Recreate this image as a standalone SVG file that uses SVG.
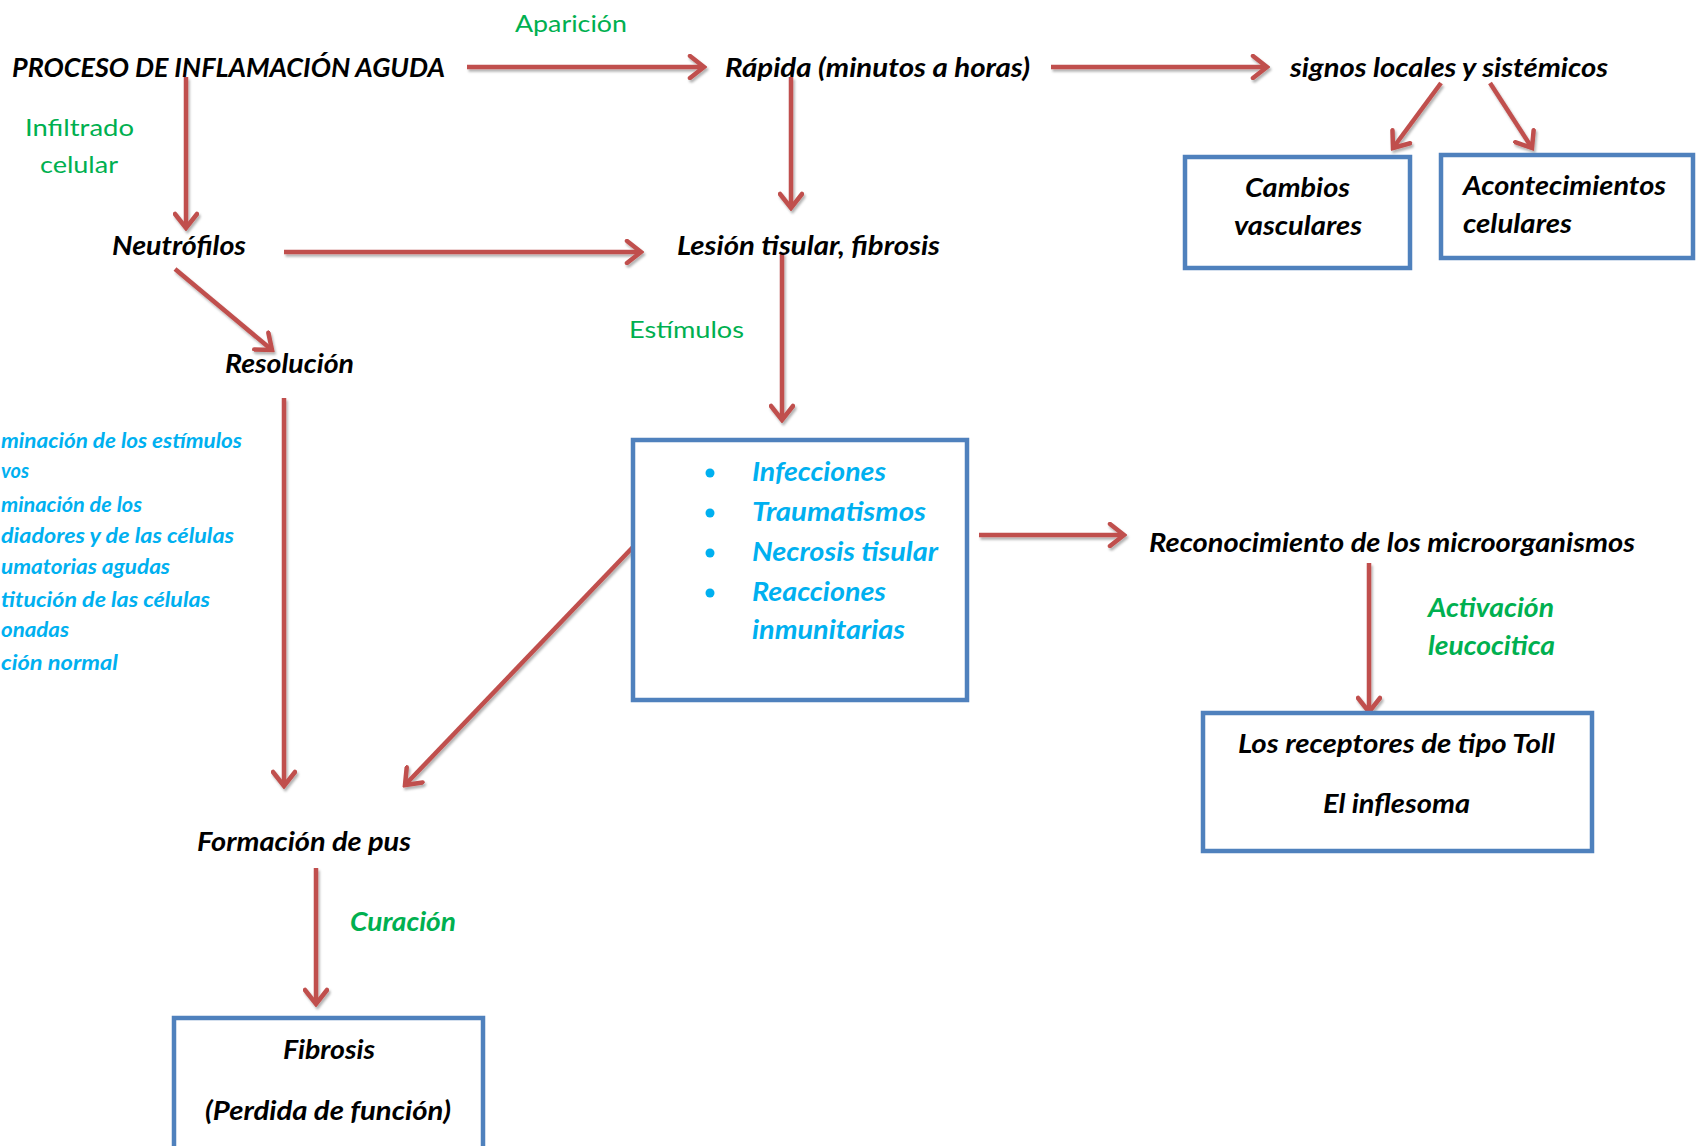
<svg xmlns="http://www.w3.org/2000/svg" width="1696" height="1146" viewBox="0 0 1696 1146">
<style>
.t{font-family:Lato,"Open Sans","Liberation Sans",sans-serif;font-weight:700;font-style:italic;font-size:26px;fill:#000}
.s{font-size:20px}
.b{fill:#00B0F0}
.g{fill:#00B050}
.gr{font-weight:400;font-style:normal;font-size:24px}
.box{fill:#fff;stroke:#4F81BD;stroke-width:4.5}
.c{stroke:#C0504D;stroke-width:4.5;fill:none;marker-end:url(#ah)}
</style>
<defs>
<marker id="ah" viewBox="0 0 20 26" refX="17" refY="13" markerWidth="20" markerHeight="26" markerUnits="userSpaceOnUse" orient="auto">
<path d="M3,2 L17,13 L3,24" fill="none" stroke="#C0504D" stroke-width="4.5" stroke-linecap="round" stroke-linejoin="miter"/>
</marker>
<filter id="sh" x="-10%" y="-10%" width="120%" height="120%">
<feDropShadow dx="1.5" dy="2.5" stdDeviation="1.2" flood-color="#000" flood-opacity="0.3"/>
</filter>
</defs>
<rect width="1696" height="1146" fill="#fff"/>

<g id="connectors" filter="url(#sh)">
<path class="c" d="M467,67 L704,67"/>
<path class="c" d="M1051,67 L1267,67"/>
<path class="c" d="M186,77 L186,228"/>
<path class="c" d="M791,77 L791,208"/>
<path class="c" d="M1441,83 L1393,148"/>
<path class="c" d="M1490,83 L1532,148"/>
<path class="c" d="M284,252 L641,252"/>
<path class="c" d="M175,269 L272,350"/>
<path class="c" d="M782,253 L782,420"/>
<path class="c" d="M284,398 L284,786"/>
<path class="c" d="M633,547 L405,785"/>
<path class="c" d="M979,535 L1124,535"/>
<path class="c" d="M1369,563 L1369,712"/>
<path class="c" d="M316,868 L316,1004"/>
</g>

<g id="label-aparicion"><text class="t g gr" x="515" y="32" textLength="112" lengthAdjust="spacingAndGlyphs">Aparición</text></g>
<g id="node-proceso"><text class="t" x="12" y="77" textLength="433" lengthAdjust="spacingAndGlyphs">PROCESO DE INFLAMACIÓN AGUDA</text></g>
<g id="node-rapida"><text class="t" x="725" y="77" textLength="305" lengthAdjust="spacingAndGlyphs">Rápida (minutos a horas)</text></g>
<g id="node-signos"><text class="t" x="1290" y="77" textLength="318" lengthAdjust="spacingAndGlyphs">signos locales y sistémicos</text></g>
<g id="label-infiltrado">
<text class="t g gr" x="25" y="136" textLength="109" lengthAdjust="spacingAndGlyphs">Infiltrado</text>
<text class="t g gr" x="40" y="173" textLength="78" lengthAdjust="spacingAndGlyphs">celular</text>
</g>
<g id="node-cambios">
<rect class="box" x="1185" y="157" width="225" height="111"/>
<text class="t" x="1245" y="197" textLength="105" lengthAdjust="spacingAndGlyphs">Cambios</text>
<text class="t" x="1234" y="235" textLength="128" lengthAdjust="spacingAndGlyphs">vasculares</text>
</g>
<g id="node-acontecimientos">
<rect class="box" x="1441" y="155" width="252" height="103"/>
<text class="t" x="1463" y="195" textLength="203" lengthAdjust="spacingAndGlyphs">Acontecimientos</text>
<text class="t" x="1463" y="233" textLength="109" lengthAdjust="spacingAndGlyphs">celulares</text>
</g>
<g id="node-neutrofilos"><text class="t" x="112" y="255" textLength="134" lengthAdjust="spacingAndGlyphs">Neutrófilos</text></g>
<g id="node-lesion"><text class="t" x="677" y="255" textLength="263" lengthAdjust="spacingAndGlyphs">Lesión tisular, fibrosis</text></g>
<g id="node-resolucion"><text class="t" x="225" y="373" textLength="129" lengthAdjust="spacingAndGlyphs">Resolución</text></g>
<g id="label-estimulos"><text class="t g gr" x="629" y="338" textLength="115" lengthAdjust="spacingAndGlyphs">Estímulos</text></g>
<g id="node-resolucion-detalle">
<text class="t s b" x="1" y="448" textLength="241" lengthAdjust="spacingAndGlyphs">minación de los estímulos</text>
<text class="t s b" x="1" y="478" textLength="28" lengthAdjust="spacingAndGlyphs">vos</text>
<text class="t s b" x="1" y="512" textLength="141" lengthAdjust="spacingAndGlyphs">minación de los</text>
<text class="t s b" x="1" y="543" textLength="233" lengthAdjust="spacingAndGlyphs">diadores y de las células</text>
<text class="t s b" x="1" y="574" textLength="169" lengthAdjust="spacingAndGlyphs">umatorias agudas</text>
<text class="t s b" x="1" y="607" textLength="209" lengthAdjust="spacingAndGlyphs">titución de las células</text>
<text class="t s b" x="1" y="637" textLength="68" lengthAdjust="spacingAndGlyphs">onadas</text>
<text class="t s b" x="1" y="670" textLength="117" lengthAdjust="spacingAndGlyphs">ción normal</text>
</g>
<g id="node-estimulos-box">
<rect class="box" x="633" y="440" width="334" height="260"/>
<circle cx="710" cy="473" r="4.5" fill="#00B0F0"/>
<circle cx="710" cy="513" r="4.5" fill="#00B0F0"/>
<circle cx="710" cy="553" r="4.5" fill="#00B0F0"/>
<circle cx="710" cy="593" r="4.5" fill="#00B0F0"/>
<text class="t b" x="752" y="481" textLength="134" lengthAdjust="spacingAndGlyphs">Infecciones</text>
<text class="t b" x="752" y="521" textLength="174" lengthAdjust="spacingAndGlyphs">Traumatismos</text>
<text class="t b" x="752" y="561" textLength="186" lengthAdjust="spacingAndGlyphs">Necrosis tisular</text>
<text class="t b" x="752" y="601" textLength="134" lengthAdjust="spacingAndGlyphs">Reacciones</text>
<text class="t b" x="752" y="639" textLength="153" lengthAdjust="spacingAndGlyphs">inmunitarias</text>
</g>
<g id="node-reconocimiento"><text class="t" x="1149" y="552" textLength="486" lengthAdjust="spacingAndGlyphs">Reconocimiento de los microorganismos</text></g>
<g id="label-activacion">
<text class="t g" x="1428" y="617" textLength="126" lengthAdjust="spacingAndGlyphs">Activación</text>
<text class="t g" x="1428" y="655" textLength="127" lengthAdjust="spacingAndGlyphs">leucocitica</text>
</g>
<g id="node-toll">
<rect class="box" x="1203" y="713" width="389" height="138"/>
<text class="t" x="1238" y="753" textLength="317" lengthAdjust="spacingAndGlyphs">Los receptores de tipo Toll</text>
<text class="t" x="1323" y="813" textLength="147" lengthAdjust="spacingAndGlyphs">El inflesoma</text>
</g>
<g id="node-pus"><text class="t" x="197" y="851" textLength="214" lengthAdjust="spacingAndGlyphs">Formación de pus</text></g>
<g id="label-curacion"><text class="t g" x="350" y="931" textLength="106" lengthAdjust="spacingAndGlyphs">Curación</text></g>
<g id="node-fibrosis">
<rect class="box" x="174" y="1018" width="309" height="140"/>
<text class="t" x="283" y="1059" textLength="92" lengthAdjust="spacingAndGlyphs">Fibrosis</text>
<text class="t" x="205" y="1120" textLength="246" lengthAdjust="spacingAndGlyphs">(Perdida de función)</text>
</g>
</svg>
